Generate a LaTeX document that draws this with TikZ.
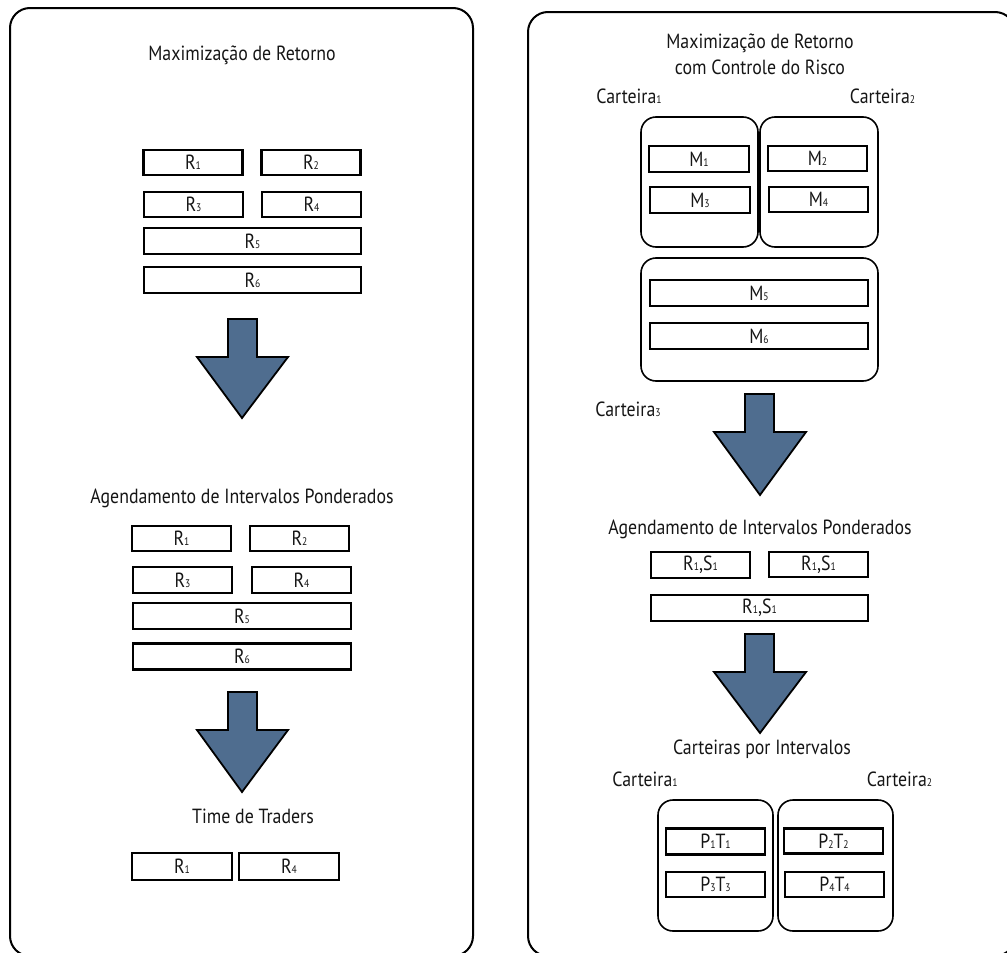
\documentclass[tikz,border=0pt]{standalone}
\usepackage{fontspec}
\setmainfont{PT Sans}[FakeStretch=0.87]
\definecolor{txt}{HTML}{151515}
\definecolor{arrowblue}{HTML}{4F6D8F}
\newcommand\ssub[1]{{\fontsize{11}{11}\selectfont #1}}
\newcommand\ttlfont{\fontsize{20.5}{24}\selectfont}
\tikzset{
  panel/.style={draw=black, line width=2pt, rounded corners=20pt},
  grp/.style={draw=black, line width=1.6pt, rounded corners=15pt, inner sep=0pt},
  rbox/.style={draw=black, line width=2.3pt, inner sep=0pt, text=txt, font=\ttlfont},
  lbl/.style={text=txt, font=\ttlfont, inner sep=0pt, anchor=base},
  barrow/.style={draw=black, line width=1.8pt, fill=arrowblue, line join=miter},
}
\begin{document}
\begin{tikzpicture}[x=1pt,y=-1pt]
\useasboundingbox (0,0) rectangle (1007,953);
\clip (0,0) rectangle (1007,953);
% panels
\draw[panel] (10,8) rectangle (473,956);
\draw[panel] (528,12) rectangle (1015,956);

% ---------- left panel ----------
\node[lbl] (lt1) at (242,60) {Maximização de Retorno};
\node[rbox, minimum width=99pt, minimum height=25pt] (la1) at (193,162.5) {R\ssub{1}};
\node[rbox, minimum width=99pt, minimum height=25pt] (la2) at (311,162.5) {R\ssub{2}};
\node[rbox, minimum width=99pt, minimum height=25pt] (la3) at (193.5,204.5) {R\ssub{3}};
\node[rbox, minimum width=99pt, minimum height=25pt] (la4) at (311.5,204.5) {R\ssub{4}};
\node[rbox, minimum width=217pt, minimum height=26pt] (la5) at (252.5,241) {R\ssub{5}};
\node[rbox, minimum width=217pt, minimum height=26pt] (la6) at (252.5,280) {R\ssub{6}};

\draw[barrow] (228,319) -- (257,319) -- (257,357) -- (288,357) -- (242,418) -- (197,357) -- (228,357) -- cycle;

\node[lbl] (lt2) at (242,503) {Agendamento de Intervalos Ponderados};
\node[rbox, minimum width=99pt, minimum height=25pt] (lb1) at (181.5,538.5) {R\ssub{1}};
\node[rbox, minimum width=99pt, minimum height=25pt] (lb2) at (299.5,538.5) {R\ssub{2}};
\node[rbox, minimum width=99pt, minimum height=26pt] (lb3) at (182.5,580) {R\ssub{3}};
\node[rbox, minimum width=99pt, minimum height=26pt] (lb4) at (301.5,580) {R\ssub{4}};
\node[rbox, minimum width=218pt, minimum height=26pt] (lb5) at (242,616) {R\ssub{5}};
\node[rbox, minimum width=218pt, minimum height=26pt] (lb6) at (242,656.5) {R\ssub{6}};

\draw[barrow] (228,692) -- (257,692) -- (257,730) -- (288,730) -- (242,792) -- (197,730) -- (228,730) -- cycle;

\node[lbl] (lt3) at (253,823) {Time de Traders};
\node[rbox, minimum width=100pt, minimum height=27pt] (lc1) at (182,866.5) {R\ssub{1}};
\node[rbox, minimum width=100pt, minimum height=27pt] (lc4) at (289,866.5) {R\ssub{4}};

% ---------- right panel ----------
\node[lbl] (rt1a) at (760,48) {Maximização de Retorno};
\node[lbl] (rt1b) at (760,74) {com Controle do Risco};
\node[lbl] (rc1) at (629,103) {Carteira\ssub{1}};
\node[lbl] (rc2) at (882.5,103) {Carteira\ssub{2}};

\node[grp, minimum width=117pt, minimum height=130pt] (g1) at (699.5,182) {};
\node[grp, minimum width=118pt, minimum height=130pt] (g2) at (819,182) {};
\node[rbox, minimum width=100pt, minimum height=26pt] (m1) at (699,159) {M\ssub{1}};
\node[rbox, minimum width=99pt, minimum height=25pt] (m2) at (817.5,158.5) {M\ssub{2}};
\node[rbox, minimum width=100pt, minimum height=26pt] (m3) at (700,200) {M\ssub{3}};
\node[rbox, minimum width=99pt, minimum height=25pt] (m4) at (818.5,199.5) {M\ssub{4}};

\node[grp, minimum width=237pt, minimum height=123pt] (g3) at (759.5,319.5) {};
\node[rbox, minimum width=218pt, minimum height=26pt] (m5) at (759,293) {M\ssub{5}};
\node[rbox, minimum width=218pt, minimum height=26pt] (m6) at (759,336) {M\ssub{6}};

\node[lbl] (rc3) at (628,416) {Carteira\ssub{3}};
\draw[barrow] (745,394) -- (774,394) -- (774,432) -- (806,432) -- (760,495) -- (714,432) -- (745,432) -- cycle;

\node[lbl] (rt2) at (760,534) {Agendamento de Intervalos Ponderados};
\node[rbox, minimum width=99pt, minimum height=26pt] (s1) at (700.5,565) {R\ssub{1},S\ssub{1}};
\node[rbox, minimum width=99pt, minimum height=25pt] (s2) at (818.5,564.5) {R\ssub{1},S\ssub{1}};
\node[rbox, minimum width=217pt, minimum height=26pt] (s3) at (759.5,608) {R\ssub{1},S\ssub{1}};

\draw[barrow] (745,634) -- (774,634) -- (774,672) -- (806,672) -- (760,733) -- (714,672) -- (745,672) -- cycle;

\node[lbl] (rt3) at (762,754) {Carteiras por Intervalos};
\node[lbl] (rc4) at (645,786) {Carteira\ssub{1}};
\node[lbl] (rc5) at (899.5,786) {Carteira\ssub{2}};

\node[grp, minimum width=115pt, minimum height=131pt] (g4) at (715.5,865.5) {};
\node[grp, minimum width=115pt, minimum height=131pt] (g5) at (835.5,865.5) {};
\node[rbox, minimum width=99pt, minimum height=26pt] (p1) at (715.5,841.5) {P\ssub{1}T\ssub{1}};
\node[rbox, minimum width=99pt, minimum height=25pt] (p2) at (833.5,841) {P\ssub{2}T\ssub{2}};
\node[rbox, minimum width=99pt, minimum height=25pt] (p3) at (715.5,884.5) {P\ssub{3}T\ssub{3}};
\node[rbox, minimum width=99pt, minimum height=25pt] (p4) at (834.5,884.5) {P\ssub{4}T\ssub{4}};
\end{tikzpicture}
\end{document}
